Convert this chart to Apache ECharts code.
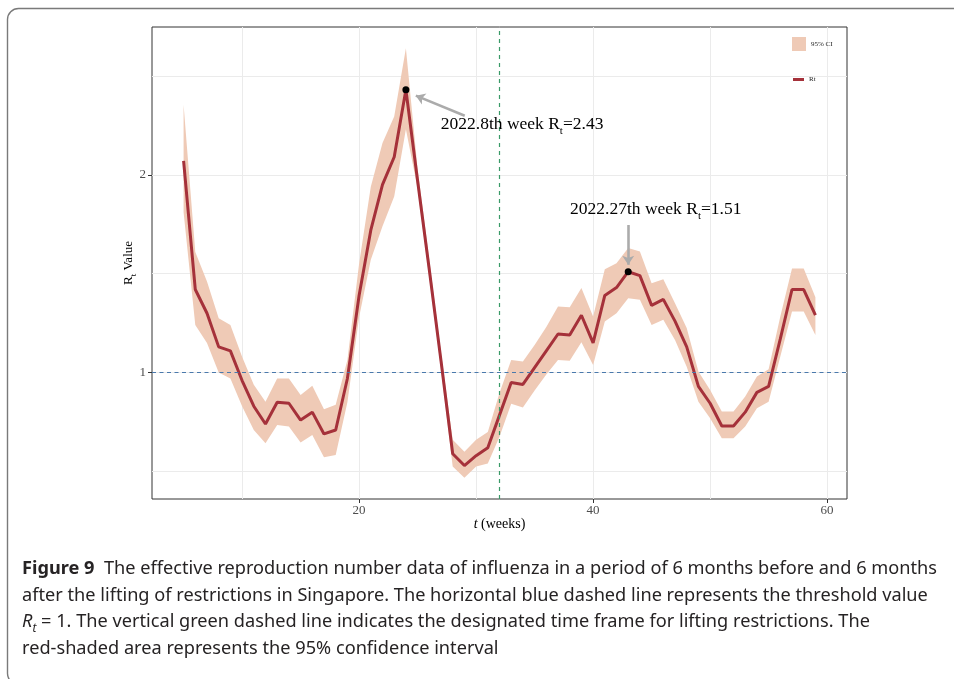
<!DOCTYPE html>
<html><head><meta charset="utf-8">
<script src="https://cdn.jsdelivr.net/npm/echarts@6/dist/echarts.min.js"></script>
<style>html,body{margin:0;padding:0;background:#fff}#c{width:954px;height:679px}</style>
</head><body><div id="c"></div>
<script>
// ---------- data ----------
const weeks = [5,6,7,8,9,10,11,12,13,14,15,16,17,18,19,20,21,22,23,24,25,26,27,28,29,30,31,32,33,34,35,36,37,38,39,40,41,42,43,44,45,46,47,48,49,50,51,52,53,54,55,56,57,58,59];
const rt = [2.07,1.42,1.30,1.13,1.11,0.96,0.83,0.74,0.85,0.845,0.76,0.80,0.69,0.71,0.97,1.39,1.72,1.95,2.09,2.43,1.97,1.52,1.06,0.59,0.53,0.58,0.62,0.785,0.95,0.94,1.025,1.11,1.195,1.19,1.29,1.15,1.39,1.43,1.51,1.49,1.34,1.37,1.26,1.13,0.93,0.845,0.73,0.73,0.80,0.90,0.93,1.17,1.42,1.42,1.29];
const ciLower = [1.81,1.24,1.15,1.00,0.97,0.83,0.71,0.643,0.735,0.727,0.646,0.685,0.572,0.584,0.85,1.28,1.57,1.74,1.89,2.23,1.93,1.48,1.02,0.525,0.469,0.525,0.54,0.676,0.842,0.823,0.91,0.99,1.064,1.06,1.154,1.039,1.258,1.30,1.376,1.368,1.241,1.267,1.165,1.03,0.853,0.769,0.668,0.668,0.727,0.82,0.853,1.081,1.309,1.309,1.19];
const ciUpper = [2.354,1.61,1.46,1.275,1.24,1.08,0.938,0.853,0.97,0.97,0.887,0.933,0.815,0.837,1.064,1.55,1.94,2.16,2.295,2.64,2.03,1.57,1.10,0.66,0.60,0.66,0.70,0.897,1.064,1.056,1.14,1.23,1.334,1.33,1.427,1.283,1.523,1.553,1.63,1.612,1.452,1.472,1.351,1.225,1.005,0.912,0.803,0.803,0.879,0.98,1.017,1.283,1.526,1.526,1.381];
const xLabelTicks = [20, 40, 60];
const xGridTicks = [10, 20, 30, 40, 50, 60];
const yLabelTicks = [1, 2];
const yGridTicks = [0.5, 1, 1.5, 2, 2.5];
const xRange = [2.3, 61.7];
const yRange = [0.361, 2.747];
const thresholdRt = 1;
const liftWeek = 32;
const peakWeeks = [24, 43];
const peakValues = [2.43, 1.51];
const peakLabels = ['2022.8th week', '2022.27th week'];
const labelAnchors = [[26.98, 2.253], [38.03, 1.823]];
const arrowFrom = [[29.03, 2.298], [43, 1.746]];
const arrowTo = [[24.85, 2.40], [43, 1.545]];
const captionLines = [
  '{b|Figure 9}{n|  The effective reproduction number data of influenza in a period of 6 months before and 6 months}',
  '{n|after the lifting of restrictions in Singapore. The horizontal blue dashed line represents the threshold value}',
  '{i|R}{s|t}{n| = 1. The vertical green dashed line indicates the designated time frame for lifting restrictions. The}',
  '{n|red-shaded area represents the 95% confidence interval}'
];

// ---------- styles ----------
const SERIF = '"Liberation Serif", "Times New Roman", serif';
const CAPF = '"Noto Sans", sans-serif';
const lineColor = '#A5313A';
const bandColor = '#EFCAB6';
const capSize = 18.5;

const chart = echarts.init(document.getElementById('c'), null, {renderer: 'canvas'});

// caption scale to emulate the narrower caption font
const cv = document.createElement('canvas').getContext('2d');
cv.font = 'bold ' + capSize + 'px ' + CAPF;
const wb = cv.measureText('Figure 9').width;
cv.font = capSize + 'px ' + CAPF;
const wr = cv.measureText('  The effective reproduction number data of influenza in a period of 6 months before and 6 months').width;
const capScale = 915 / (wb + wr);

const capColor = '#262324';
const capRich = {
  b: {fontFamily: CAPF, fontSize: capSize, fontWeight: 'bold', fill: capColor, lineHeight: 26},
  n: {fontFamily: CAPF, fontSize: capSize, fill: capColor, lineHeight: 26},
  i: {fontFamily: CAPF, fontSize: capSize, fontStyle: 'italic', fill: capColor, lineHeight: 26},
  s: {fontFamily: CAPF, fontSize: 12, fontStyle: 'italic', fill: capColor, verticalAlign: 'bottom'}
};
const capY = [569, 595.5, 622, 648.5];

const annRich = {
  n: {fontFamily: SERIF, fontSize: 17.5, color: '#000', lineHeight: 24},
  s: {fontFamily: SERIF, fontSize: 11, color: '#000', verticalAlign: 'bottom'}
};

const markPoints = [];
peakWeeks.forEach((w, i) => {
  markPoints.push({coord: [w, peakValues[i]], symbol: 'circle', symbolSize: 7,
    itemStyle: {color: '#000'}, label: {show: false}});
  markPoints.push({coord: labelAnchors[i], symbol: 'circle', symbolSize: 0,
    itemStyle: {color: 'transparent'},
    label: {show: true, position: 'right', distance: 0,
      formatter: '{n|' + peakLabels[i] + ' R}{s|t}{n|=' + peakValues[i].toFixed(2) + '}',
      rich: annRich}});
});

const markLines = [
  {yAxis: thresholdRt, lineStyle: {color: '#4A79AC', type: [4, 3.5], width: 1.1}},
  {xAxis: liftWeek, lineStyle: {color: '#3A9A68', type: [4, 4], width: 1.2}}
];
arrowFrom.forEach((f, i) => {
  markLines.push([
    {coord: f, symbol: 'none', lineStyle: {color: '#ABABAB', width: 2.6, type: 'solid'}},
    {coord: arrowTo[i], symbol: 'arrow', symbolSize: [9, 9]}
  ]);
});

const axisCommon = {type: 'value', min: xRange[0], max: xRange[1]};

chart.setOption({
  backgroundColor: '#fff',
  animation: false,
  grid: {left: 152, right: 107, top: 27, bottom: 180, show: true, borderColor: '#333', borderWidth: 1, backgroundColor: 'transparent'},
  legend: [
    {data: [{name: '95% CI', icon: 'rect'}], left: 792, top: 37, padding: 0, itemWidth: 14, itemHeight: 14,
      textStyle: {fontFamily: SERIF, fontSize: 7, color: '#222'}, selectedMode: false},
    {data: [{name: 'Rt', icon: 'rect'}], left: 793, top: 76, padding: 0, itemWidth: 11, itemHeight: 3,
      textStyle: {fontFamily: SERIF, fontSize: 7, color: '#222'}, selectedMode: false}
  ],
  xAxis: [
    {...axisCommon, position: 'bottom', axisLine: {show: false},
      axisTick: {show: false, customValues: xGridTicks}, axisLabel: {show: false},
      splitLine: {show: true, lineStyle: {color: '#EBEBEB', width: 1}}},
    {...axisCommon, position: 'bottom', axisLine: {show: false},
      axisTick: {show: true, customValues: xLabelTicks, length: 4, lineStyle: {color: '#333'}},
      axisLabel: {customValues: xLabelTicks, fontFamily: SERIF, fontSize: 13, color: '#4D4D4D', margin: 5},
      splitLine: {show: false},
      name: '{i|t} (weeks)', nameLocation: 'middle', nameGap: 18, nameMoveOverlap: false,
      nameTextStyle: {fontFamily: SERIF, fontSize: 14, color: '#000',
        rich: {i: {fontFamily: SERIF, fontSize: 14, fontStyle: 'italic', color: '#000'}}}}
  ],
  yAxis: [
    {type: 'value', min: yRange[0], max: yRange[1], position: 'left', axisLine: {show: false},
      axisTick: {show: false, customValues: yGridTicks}, axisLabel: {show: false},
      splitLine: {show: true, lineStyle: {color: '#EBEBEB', width: 1}}},
    {type: 'value', min: yRange[0], max: yRange[1], position: 'left', axisLine: {show: false},
      axisTick: {show: true, customValues: yLabelTicks, length: 4, lineStyle: {color: '#333'}},
      axisLabel: {customValues: yLabelTicks, fontFamily: SERIF, fontSize: 13, color: '#4D4D4D', margin: 6},
      splitLine: {show: false},
      name: '{r|R}{s|t}{r| Value}', nameLocation: 'middle', nameGap: 14, nameMoveOverlap: false,
      nameTextStyle: {fontFamily: SERIF, fontSize: 13, color: '#000',
        rich: {r: {fontFamily: SERIF, fontSize: 13, color: '#000', lineHeight: 19},
               s: {fontFamily: SERIF, fontSize: 9, color: '#000', verticalAlign: 'bottom'}}}}
  ],
  series: [
    {name: '95% CI', type: 'custom', xAxisIndex: 0, yAxisIndex: 0, silent: true, z: 1,
      itemStyle: {color: bandColor},
      encode: {x: 0, y: [1, 2]},
      data: weeks.map((w, i) => [w, ciLower[i], ciUpper[i]]),
      renderItem: (params, api) => {
        if (params.dataIndex !== 0) return null;
        const pts = [];
        for (let i = 0; i < weeks.length; i++) pts.push(api.coord([weeks[i], ciUpper[i]]));
        for (let i = weeks.length - 1; i >= 0; i--) pts.push(api.coord([weeks[i], ciLower[i]]));
        return {type: 'polygon', shape: {points: pts}, style: {fill: bandColor}};
      }},
    {name: 'Rt', type: 'line', xAxisIndex: 0, yAxisIndex: 0, symbol: 'none', color: lineColor,
      lineStyle: {color: lineColor, width: 3}, z: 3,
      data: weeks.map((w, i) => [w, rt[i]]),
      markLine: {silent: true, symbol: ['none', 'none'], label: {show: false}, data: markLines, z: 4},
      markPoint: {silent: true, data: markPoints, z: 6}}
  ],
  graphic: [
    {type: 'rect', shape: {x: 7.5, y: 8.5, width: 1000, height: 676, r: 11},
      style: {fill: 'none', stroke: '#7a7a7a', lineWidth: 1.4}, silent: true, z: -1}
  ].concat(captionLines.map((t, i) => ({
    type: 'text', x: 22, y: capY[i], scaleX: capScale, silent: true,
    style: {text: t, rich: capRich, fontFamily: CAPF, fontSize: capSize, fill: capColor, verticalAlign: 'middle', textVerticalAlign: 'middle'}
  })))
});
</script>
</body></html>
